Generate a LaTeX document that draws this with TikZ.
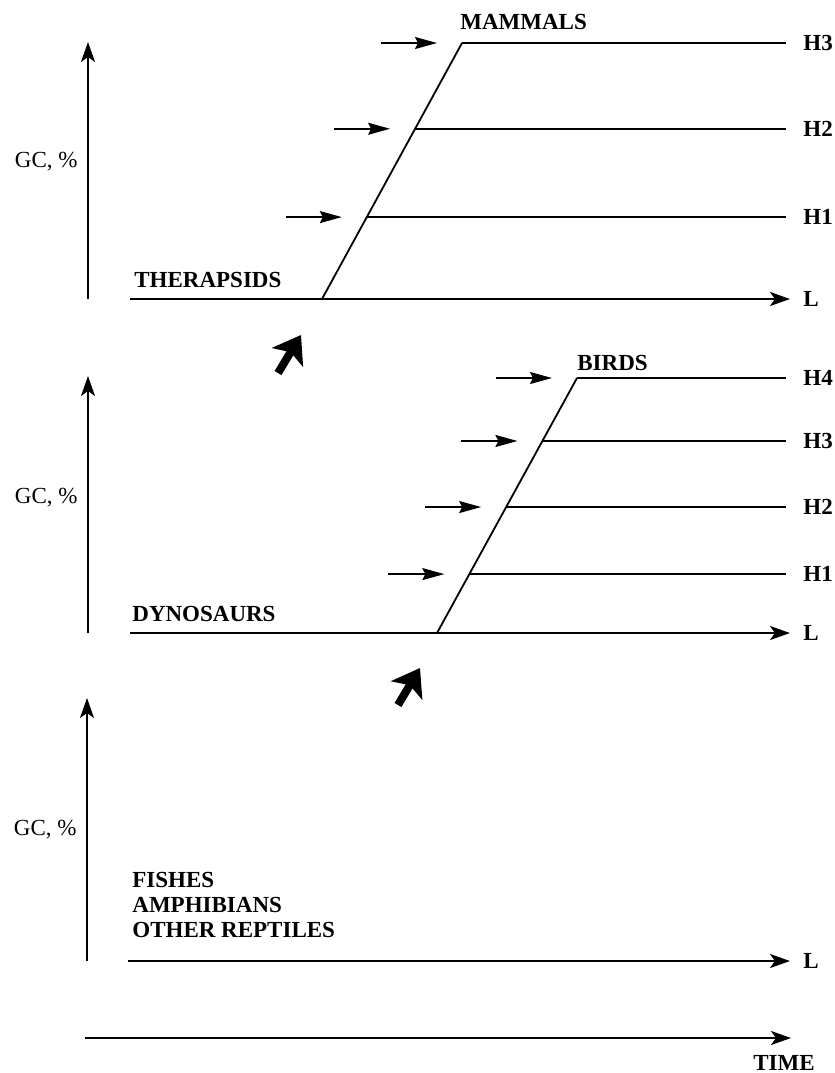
\documentclass[tikz,border=0pt]{standalone}
\usepackage{fontspec}
\setmainfont{Liberation Serif}
\usetikzlibrary{positioning, calc}
\usetikzlibrary{arrows.meta}

\tikzset{
  axis/.style={line width=0.8pt, -{Stealth[length=10pt,width=7pt,inset=2.5pt]}},
  base/.style={line width=1.1pt, -{Stealth[length=10pt,width=7pt,inset=2.5pt]}},
  slant/.style={line width=0.9pt},
  level/.style={line width=0.75pt},
  push/.style={line width=0.75pt, -{Stealth[length=11pt,width=6pt,inset=1.5pt]}},
  jump/.style={line width=4pt, -{Stealth[length=13pt,width=18pt,inset=3pt]}},
  lbl/.style={anchor=west, inner sep=0pt, font=\bfseries\fontsize{11.5}{12.5}\selectfont},
  gc/.style={anchor=east, inner sep=0pt, font=\fontsize{11.5}{12.5}\selectfont},
}

\begin{document}
\begin{tikzpicture}[x=0.5pt,y=-0.5pt]
\useasboundingbox (0,0) rectangle (835,1073);
\coordinate (rx) at (803,0);

% mammals
\coordinate (y1) at (88,299);
\coordinate (y1top) at (88,42);
\draw[axis] (y1) -- (y1top);
\node[gc] (gc1) at (78,162) {GC, \%};
\node[lbl] (L1) at (803,299) {L};
\coordinate (b1) at (130,299);
\draw[base,shorten >=6.5pt] (b1) -- (L1.west);
\node[lbl] (thera) at (134,280) {THERAPSIDS};
\coordinate (s1) at (322,299);
\coordinate (t1) at (462,43);
\draw[slant] (s1) -- (t1);
\node[lbl] (mam) at (460,22) {MAMMALS};
\foreach \f/\h in {0.32/H1, 0.665/H2, 1/H3}{
    \coordinate (a\h) at ($(s1)!\f!(t1)$);
    \node[lbl] (ra\h) at (a\h -| rx) {\h};
    \draw[level,shorten >=8.5pt] (a\h) -- (ra\h.west);
    \draw[push] ($(a\h)+(-81,0)$) -- ($(a\h)+(-25,0)$);
}
\coordinate (j1a) at (278,373);
\coordinate (j1b) at (301,335);
\draw[jump] (j1a) -- (j1b);

% birds
\coordinate (y2) at (88,633);
\coordinate (y2top) at (88,376);
\draw[axis] (y2) -- (y2top);
\node[gc] (gc2) at (78,498) {GC, \%};
\node[lbl] (L2) at (803,633) {L};
\coordinate (b2) at (130,633);
\draw[base,shorten >=6.5pt] (b2) -- (L2.west);
\node[lbl] (dyno) at (132,614) {DYNOSAURS};
\coordinate (s2) at (437,633);
\coordinate (t2) at (577,378);
\draw[slant] (s2) -- (t2);
\node[lbl] (birds) at (577,363) {BIRDS};
\foreach \f/\h in {0.231/H1, 0.494/H2, 0.753/H3, 1/H4}{
    \coordinate (b\h) at ($(s2)!\f!(t2)$);
    \node[lbl] (rb\h) at (b\h -| rx) {\h};
    \draw[level,shorten >=8.5pt] (b\h) -- (rb\h.west);
    \draw[push] ($(b\h)+(-81,0)$) -- ($(b\h)+(-25,0)$);
}
\coordinate (j2a) at (398,705);
\coordinate (j2b) at (420,668);
\draw[jump] (j2a) -- (j2b);

% the rest
\coordinate (y3) at (87,961);
\coordinate (y3top) at (87,698);
\draw[axis] (y3) -- (y3top);
\node[gc] (gc3) at (77,830) {GC, \%};
\node[lbl] (L3) at (803,961) {L};
\coordinate (b3) at (128,961);
\draw[base,shorten >=6.5pt] (b3) -- (L3.west);
\node[lbl,align=left] (rest) at (132,905) {FISHES\\AMPHIBIANS\\OTHER REPTILES};

% time
\coordinate (t0) at (85,1038);
\coordinate (t9) at (791,1038);
\draw[base] (t0) -- (t9);
\node[lbl,anchor=east] (time) at (815,1063) {TIME};
\end{tikzpicture}
\end{document}
